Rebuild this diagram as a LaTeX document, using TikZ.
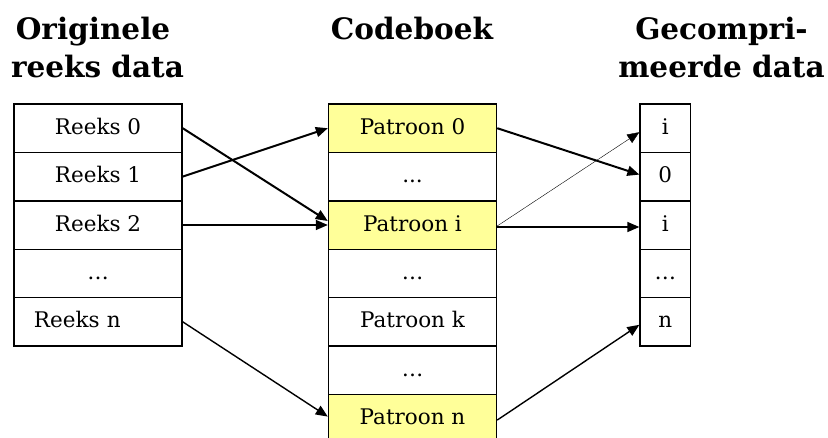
\documentclass[tikz,border=0pt]{standalone}
\usepackage{fontspec}
\setmainfont{DejaVu Serif}
\usetikzlibrary{arrows.meta}
\definecolor{pattern}{RGB}{255,255,153}
\begin{document}
\begin{tikzpicture}[x=1pt,y=-1pt,
  head/.style={font=\bfseries\fontsize{29.5}{34}\selectfont, anchor=base, inner sep=0pt},
  cell/.style={draw, line width=1.4pt, inner sep=0pt, minimum height=48.4pt,
    font=\fontsize{21.5}{24}\selectfont, text height=16pt, text depth=4pt},
  leftcell/.style={cell, minimum width=168pt},
  midcell/.style={cell, minimum width=168pt},
  hit/.style={midcell, fill=pattern},
  outcell/.style={cell, minimum width=50.5pt},
  tip/.style={-{Triangle[length=12pt,width=10pt]}},
  bold link/.style={tip, line width=2pt},
  link/.style={tip, line width=1.4pt},
  faint link/.style={tip, line width=0.4pt}]
\useasboundingbox (0,0) rectangle (828,437);

% column headings
\node[head] (h1a) at (93,39.3) {Originele};
\node[head] (h1b) at (97.5,77.3) {reeks data};
\node[head] (h2)  at (412,39.3) {Codeboek};
\node[head] (h3a) at (721.5,39.3) {Gecompri-};
\node[head] (h3b) at (721.5,77.3) {meerde data};

% original data series
\node[leftcell] (r0) at (98,128.2) {Reeks 0};
\node[leftcell] (r1) at (98,176.6) {Reeks 1};
\node[leftcell] (r2) at (98,225.0) {Reeks 2};
\node[leftcell] (r3) at (98,273.4) {\char"2026};
\node[leftcell, text width=128pt, align=left] (r4) at (98,321.8) {Reeks n};

% codebook
\node[hit]     (p0) at (412.5,128.2) {Patroon 0};
\node[midcell] (p1) at (412.5,176.6) {...};
\node[hit]     (p2) at (412.5,225.0) {Patroon i};
\node[midcell] (p3) at (412.5,273.4) {\char"2026};
\node[midcell] (p4) at (412.5,321.8) {Patroon k};
\node[midcell] (p5) at (412.5,370.2) {\char"2026};
\node[hit]     (p6) at (412.5,418.6) {Patroon n};

% compressed data
\node[outcell] (c0) at (665.3,128.2) {i};
\node[outcell] (c1) at (665.3,176.6) {0};
\node[outcell] (c2) at (665.3,225.0) {i};
\node[outcell] (c3) at (665.3,273.4) {\char"2026};
\node[outcell] (c4) at (665.3,321.8) {n};

% series to pattern
\draw[bold link] (r0.east) -- ([yshift=4pt]p2.west);
\draw[bold link] (r1.east) -- (p0.west);
\draw[link] (r2.east) -- (p2.west);
\draw[link] (r4.east) -- ([yshift=2pt]p6.west);

% pattern to index
\draw[bold link] (p0.east) -- ([yshift=2pt]c1.west);
\draw[faint link] ([yshift=-1pt]p2.east) -- ([yshift=-4pt]c0.west);
\draw[link] ([yshift=-2pt]p2.east) -- ([yshift=-2pt]c2.west);
\draw[link] ([yshift=-1.5pt]p6.east) -- ([yshift=-3pt]c4.west);
\end{tikzpicture}
\end{document}
